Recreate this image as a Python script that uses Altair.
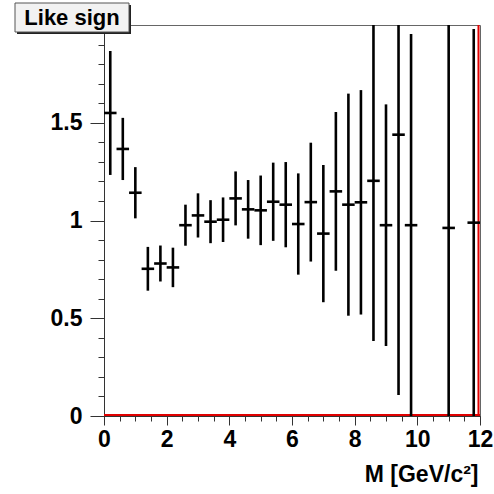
import altair as alt
import pandas as pd

# ---- data ----
bin_center = [0.2, 0.6, 1.0, 1.4, 1.8, 2.2, 2.6, 3.0, 3.4, 3.8, 4.2, 4.6, 5.0, 5.4,
              5.8, 6.2, 6.6, 7.0, 7.4, 7.8, 8.2, 8.6, 9.0, 9.4, 9.8, 11.0, 11.8]
ratio = [1.55, 1.366, 1.142, 0.753, 0.780, 0.760, 0.976, 1.026, 0.994, 1.004, 1.113,
         1.057, 1.052, 1.096, 1.081, 0.982, 1.094, 0.933, 1.149, 1.081, 1.093, 1.203,
         0.976, 1.439, 0.976, 0.962, 0.989]
error = [0.317, 0.159, 0.131, 0.112, 0.092, 0.101, 0.105, 0.113, 0.110, 0.114, 0.138,
         0.150, 0.178, 0.200, 0.218, 0.259, 0.304, 0.351, 0.406, 0.568, 0.574, 0.820,
         0.618, 1.332, 0.978, 1.250, 0.990]
bin_half_width = 0.2

x_major = [0, 2, 4, 6, 8, 10, 12]
x_minor = [i * 0.5 for i in range(25)]
y_major = [0, 0.5, 1, 1.5, 2]
y_minor = [round(i * 0.1, 1) for i in range(21)]

title_text = ["Like sign"]
x_title = "M [GeV/c²]"

df = pd.DataFrame({"m": bin_center, "r": ratio, "e": error})
df["lo"] = df["r"] - df["e"]
df["hi"] = df["r"] + df["e"]
df["xl"] = df["m"] - bin_half_width
df["xh"] = df["m"] + bin_half_width

FONT = "Liberation Sans"
AX = "#333333"
LFS = 23

xscale = alt.Scale(domain=[0, 12], nice=False, zero=False)
yscale = alt.Scale(domain=[0, 2], nice=False, zero=False)

x_axis_major = alt.Axis(values=x_major, orient="bottom", tickSize=9, labelPadding=3,
                        labelFont=FONT, labelFontSize=LFS, labelFontWeight="bold",
                        labelColor="black", domainColor=AX, tickColor=AX, grid=False,
                        labelFlush=False, labelOverlap=False,
                        title=x_title, titleFont=FONT, titleFontSize=23,
                        titleFontWeight="bold", titleColor="black", titleX=374,
                        titleY=65, titleAlign="right", titleBaseline="alphabetic",
                        titleAngle=0)
y_axis_major = alt.Axis(values=y_major, orient="left", format="~g", tickSize=14,
                        labelPadding=8, labelFont=FONT, labelFontSize=LFS,
                        labelFontWeight="bold", labelColor="black", domainColor=AX,
                        tickColor=AX, grid=False, labelFlush=False,
                        labelOverlap=False, title=None)
x_axis_minor = alt.Axis(values=x_minor, orient="bottom", tickSize=5, labels=False,
                        domain=False, tickColor=AX, grid=False, title=None)
y_axis_minor = alt.Axis(values=y_minor, orient="left", tickSize=6, labels=False,
                        domain=False, tickColor=AX, grid=False, title=None)

vbars = alt.Chart(df).mark_rule(color="black", strokeWidth=2.6, clip=True).encode(
    x=alt.X("m:Q", scale=xscale, axis=x_axis_major),
    y=alt.Y("lo:Q", scale=yscale, axis=y_axis_major),
    y2="hi:Q",
)
hbars = alt.Chart(df).mark_rule(color="black", strokeWidth=2.6, clip=True).encode(
    x=alt.X("xl:Q", scale=xscale, axis=None),
    x2="xh:Q",
    y=alt.Y("r:Q", scale=yscale, axis=None),
)
minor = alt.Chart(df).mark_point(opacity=0).encode(
    x=alt.X("m:Q", scale=xscale, axis=x_axis_minor),
    y=alt.Y("r:Q", scale=yscale, axis=y_axis_minor),
)

red_df = pd.DataFrame({"x0": [0], "x1": [12], "y0": [0], "y1": [2]})
red_h = alt.Chart(red_df).mark_rule(color="#e00000", strokeWidth=2, yOffset=-1).encode(
    x=alt.X("x0:Q", scale=xscale, axis=None), x2="x1:Q",
    y=alt.Y("y0:Q", scale=yscale, axis=None),
)
red_v = alt.Chart(red_df).mark_rule(color="#e00000", strokeWidth=2, xOffset=-1.5).encode(
    x=alt.X("x1:Q", scale=xscale, axis=None),
    y=alt.Y("y0:Q", scale=yscale, axis=None), y2="y1:Q",
)

tdf = pd.DataFrame({"t": title_text})
shadow = alt.Chart(tdf).mark_rect(color="#222222").encode(
    x=alt.value(-87), x2=alt.value(27), y=alt.value(-20), y2=alt.value(9))
box = alt.Chart(tdf).mark_rect(fill="#f2f2f2", stroke="#555555", strokeWidth=1).encode(
    x=alt.value(-89), x2=alt.value(25), y=alt.value(-22), y2=alt.value(7))
ttext = alt.Chart(tdf).mark_text(font=FONT, fontSize=22, fontWeight="bold",
                                 color="black", align="center",
                                 baseline="alphabetic").encode(
    x=alt.value(-32), y=alt.value(0), text="t:N")

chart = alt.layer(red_h, red_v, vbars, hbars, minor, shadow, box, ttext).resolve_axis(
    x="independent", y="independent"
).properties(
    width=376, height=391,
    autosize=alt.AutoSizeParams(type="none"),
    padding={"left": 104, "top": 25, "right": 14, "bottom": 78},
    background="white",
).configure_view(stroke="#666666", strokeWidth=1)

chart.save("out.html", embed_options={"renderer": "svg", "actions": False})
